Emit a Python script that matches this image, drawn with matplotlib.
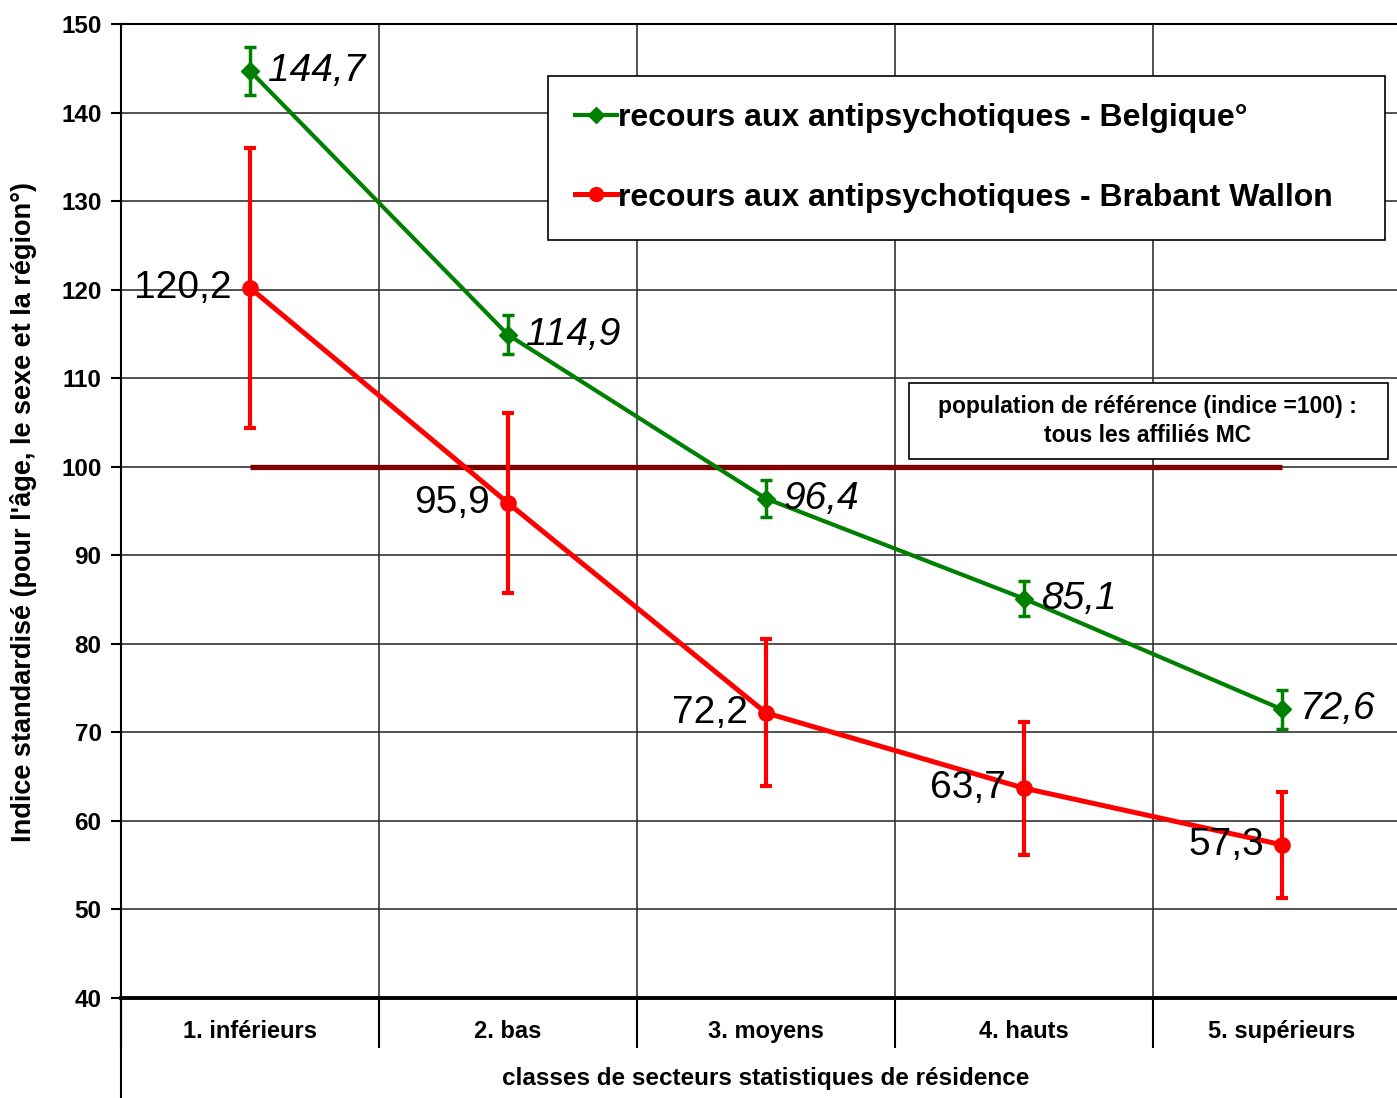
import matplotlib
matplotlib.use('Agg')
import matplotlib.pyplot as plt
from matplotlib.lines import Line2D
from matplotlib.patches import Rectangle

# data
categories = ['1. inférieurs', '2. bas', '3. moyens', '4. hauts', '5. supérieurs']
belgique = [144.7, 114.9, 96.4, 85.1, 72.6]
belgique_err = [2.7, 2.2, 2.1, 2.0, 2.2]
brabant = [120.2, 95.9, 72.2, 63.7, 57.3]
brabant_err = [15.8, 10.2, 8.3, 7.5, 6.0]
belgique_labels = ['144,7', '114,9', '96,4', '85,1', '72,6']
brabant_labels = ['120,2', '95,9', '72,2', '63,7', '57,3']
ref_value = 100

W, H = 1397, 1098
arial = ['Liberation Sans', 'DejaVu Sans']

fig = plt.figure(figsize=(W / 100, H / 100), dpi=100)
ax = fig.add_axes([121 / W, 1 - 998 / H, (1411 - 121) / W, (998 - 24) / H])

x = list(range(1, len(categories) + 1))
green = '#008000'
red = '#ff0000'

# reference line
ax.plot([x[0], x[-1]], [ref_value, ref_value], color='#800000', lw=3.8, zorder=2,
        solid_capstyle='butt')

ax.errorbar(x, belgique, yerr=belgique_err, color=green, lw=3, marker='D', ms=9,
            elinewidth=2.5, capsize=4, capthick=2.5, zorder=4)
ax.errorbar(x, brabant, yerr=brabant_err, color=red, lw=3.6, marker='o', ms=11,
            elinewidth=3, capsize=4, capthick=3, zorder=3)

for xi, v, t in zip(x, belgique, belgique_labels):
    ax.text(xi + 0.07, v, t, fontsize=28, style='italic', family=arial,
            ha='left', va='center', zorder=5)
for xi, v, t in zip(x, brabant, brabant_labels):
    ax.text(xi - 0.07, v, t, fontsize=28, family=arial,
            ha='right', va='center', zorder=5)

ax.set_xlim(0.5, 5.5)
ax.set_ylim(40, 150)
ax.set_yticks(range(40, 151, 10))
ax.set_xticks(x)
ax.set_xticklabels(categories)
ax.set_xticks([i + 0.5 for i in range(0, 6)], minor=True)

ax.grid(axis='y', which='major', color='#333333', lw=1.2)
ax.grid(axis='x', which='minor', color='#333333', lw=1.2)
ax.set_axisbelow(True)

ax.tick_params(axis='y', direction='out', length=7, width=1.5, pad=7)
ax.tick_params(axis='x', which='major', length=0, pad=16)
ax.tick_params(axis='x', which='minor', direction='out', length=36, width=1.5)
for lab in ax.get_yticklabels():
    lab.set_fontsize(17.5)
    lab.set_fontweight('bold')
    lab.set_family(arial)
for lab in ax.get_xticklabels():
    lab.set_fontsize(17)
    lab.set_fontweight('bold')
    lab.set_family(arial)

ax.spines['top'].set_linewidth(1.5)
ax.spines['left'].set_linewidth(1.5)
ax.spines['bottom'].set_linewidth(2.8)
ax.spines['right'].set_visible(False)

# left frame continues below the category labels
fig.add_artist(Line2D([121 / W, 121 / W], [0, 1 - 998 / H], color='black', lw=1.5))

ax.set_xlabel('classes de secteurs statistiques de résidence', fontsize=17.5,
              fontweight='bold', family=arial, labelpad=10)
fig.text(24 / W, 1 - 512 / H, "Indice standardisé (pour l'âge, le sexe et la région°)",
         rotation=90, ha='center', va='center', fontsize=19.5, fontweight='bold',
         family=arial)

handles = [
    Line2D([], [], color=green, lw=3, marker='D', ms=8),
    Line2D([], [], color=red, lw=3.6, marker='o', ms=10),
]
names = ['recours aux antipsychotiques - Belgique°',
         'recours aux antipsychotiques - Brabant Wallon']
leg = ax.legend(handles, names, loc='upper left',
                bbox_to_anchor=(548 / W, 1 - 235 / H, (1385 - 548) / W, (235 - 76) / H),
                bbox_transform=fig.transFigure, mode='expand', borderaxespad=0,
                fancybox=False, edgecolor='black', framealpha=1, handlelength=1.3,
                handletextpad=0.05, borderpad=0.85, labelspacing=1.55,
                prop={'family': arial, 'weight': 'bold', 'size': 23})
leg.get_frame().set_linewidth(1.2)

# reference population note
ax.add_patch(Rectangle((3.554, 100.88), 5.411 - 3.554, 109.46 - 100.88,
                       fc='white', ec='black', lw=1.2, zorder=6))
ax.text(4.48, 105.2, 'population de référence (indice =100) :\ntous les affiliés MC',
        ha='center', va='center', fontsize=16.5, fontweight='bold', family=arial,
        linespacing=1.35, zorder=7)

fig.savefig('out.png', dpi=100)
